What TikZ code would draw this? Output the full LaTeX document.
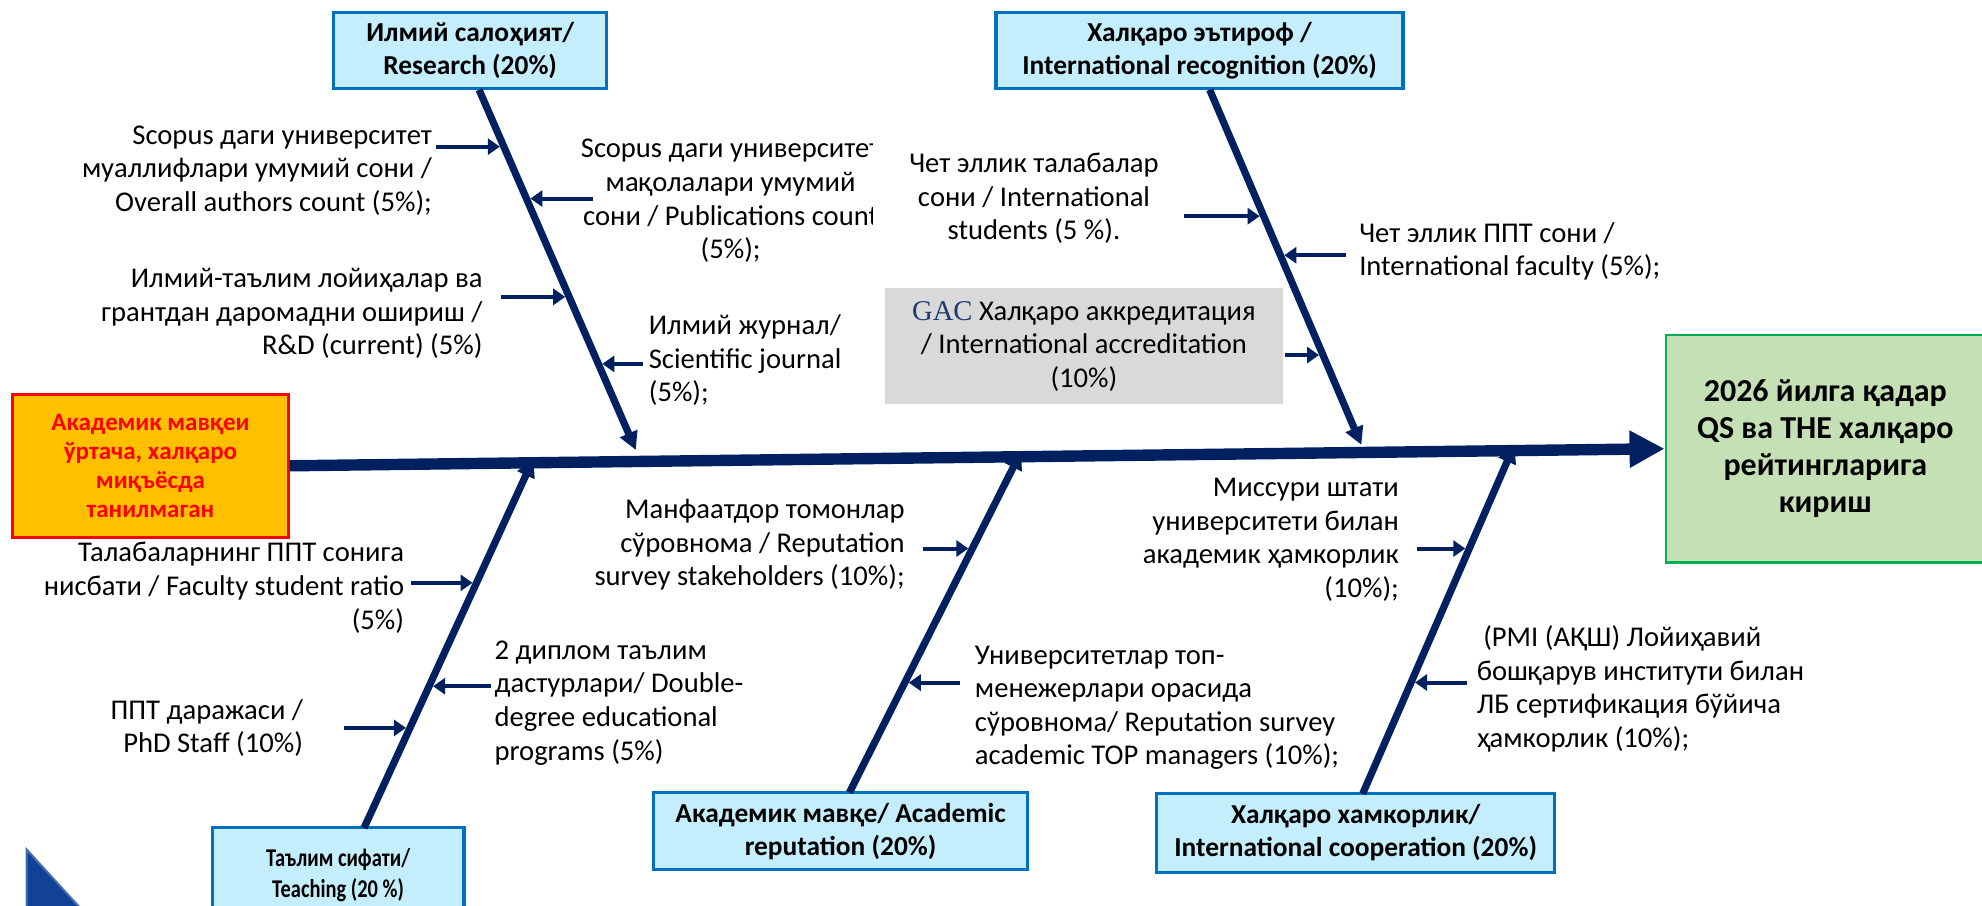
\documentclass[tikz,border=0pt]{standalone}
\usepackage{fontspec}
\setmainfont{Carlito}
\newfontfamily\gacfont{Liberation Serif}
\newfontfamily\narrowfont[FakeStretch=0.8]{Carlito}
\usetikzlibrary{arrows.meta,calc}

\definecolor{navy}{RGB}{0,32,96}
\definecolor{boxblue}{RGB}{0,112,192}
\definecolor{boxfill}{RGB}{197,238,252}
\definecolor{probfill}{RGB}{255,192,0}
\definecolor{goalfill}{RGB}{197,224,180}
\definecolor{goalline}{RGB}{0,176,80}
\definecolor{gacgray}{RGB}{217,217,217}
\definecolor{gacblue}{RGB}{31,56,110}
\definecolor{slideblue}{RGB}{18,66,152}
\definecolor{slideedge}{RGB}{70,110,175}

\newcommand{\causesize}{\fontsize{14.3}{16.8}\selectfont}
\newcommand{\factorsize}{\fontsize{13.7}{16.5}\selectfont}
\newcommand{\teachsize}{\narrowfont\fontsize{12.8}{15.5}\selectfont}
\newcommand{\probsize}{\fontsize{12.5}{14.6}\selectfont}
\newcommand{\goalsize}{\fontsize{16}{18.6}\selectfont}

\tikzset{
  factor/.style={draw=boxblue, line width=1.6pt, fill=boxfill, align=center, inner sep=0pt, font=\bfseries\factorsize},
  cause/.style={inner sep=0pt, font=\causesize},
  spine/.style={navy, line width=5.7pt, -{Triangle[length=17.5pt,width=17.5pt]}},
  bone/.style={navy, line width=3.6pt, -{Triangle[length=9pt,width=9pt]}},
  sub/.style={navy, line width=2pt, -{Triangle[length=6pt,width=8pt]}, shorten >=2pt},
}

\begin{document}
\begin{tikzpicture}[x=0.632pt,y=0.632pt,yscale=-1,xscale=1]
\useasboundingbox (0,0) rectangle (1568,716);
\clip (0,0) rectangle (1568,716);
\fill[white] (0,0) rectangle (1568,716);

%Shape: slide corner
\fill[slideblue, draw=slideedge, line width=1pt] (21,672) -- (21,720) -- (65,720) -- cycle;

%Head and tail
\draw (119,368.5) node (prob) [draw=red, line width=1.5pt, fill=probfill, text=red, font=\bfseries\probsize, align=center, inner sep=0pt, minimum width=137.8pt, minimum height=71.4pt] {Академик мавқеи\\ўртача, халқаро\\миқъёсда\\танилмаган};
\draw (1444,355) node (goal) [draw=goalline, line width=1.4pt, fill=goalfill, font=\bfseries\goalsize, align=center, inner sep=0pt, minimum width=159.3pt, minimum height=113.8pt] {2026 йилга қадар\\QS ва THE халқаро\\рейтингларига\\кириш};

%Spine
\draw[spine] (prob.east) -- (goal.west);

%Factor boxes
\draw (372,40) node (bRes) [factor, minimum width=136.5pt, minimum height=37.9pt] {Илмий салоҳият/\\Research (20\%)};
\draw (949,40) node (bRec) [factor, minimum width=203.5pt, minimum height=37.9pt] {Халқаро эътироф /\\International recognition (20\%)};
\draw (267.5,692) node (bTea) [factor, font=\teachsize\bfseries, minimum width=125.8pt, minimum height=47.4pt] {Таълим сифати/\\Teaching (20 \%)};
\draw (665,657.5) node (bRep) [factor, minimum width=187pt, minimum height=38.6pt] {Академик мавқе/ Academic\\reputation (20\%)};
\draw (1072.5,659) node (bCoop) [factor, minimum width=199pt, minimum height=39.2pt] {Халқаро хамкорлик/\\International cooperation (20\%)};

%Bones
\coordinate (sRes) at (379,71);   \coordinate (eRes) at (503,356);
\coordinate (sRec) at (957,71);   \coordinate (eRec) at (1077,352);
\coordinate (sTea) at (288,655);  \coordinate (eTea) at (422,363);
\coordinate (sRep) at (672,627);  \coordinate (eRep) at (808,357);
\coordinate (sCoop) at (1078,628); \coordinate (eCoop) at (1198,352);

%Points on bones
\coordinate (a1) at ($(sRes)!0.158!(eRes)$);
\coordinate (a2) at ($(sRes)!0.302!(eRes)$);
\coordinate (a3) at ($(sRes)!0.575!(eRes)$);
\coordinate (a4) at ($(sRes)!0.761!(eRes)$);
\coordinate (a5) at ($(sRec)!0.356!(eRec)$);
\coordinate (a6) at ($(sRec)!0.466!(eRec)$);
\coordinate (a7) at ($(sRec)!0.747!(eRec)$);
\coordinate (a8) at ($(sTea)!0.664!(eTea)$);
\coordinate (a9) at ($(sTea)!0.384!(eTea)$);
\coordinate (a10) at ($(sTea)!0.271!(eTea)$);
\coordinate (a11) at ($(sRep)!0.715!(eRep)$);
\coordinate (a12) at ($(sRep)!0.322!(eRep)$);
\coordinate (a13) at ($(sCoop)!0.703!(eCoop)$);
\coordinate (a14) at ($(sCoop)!0.319!(eCoop)$);

% Text Node
\draw (342,135) node (tA) [cause, anchor=east, align=right] {Scopus даги университет\\муаллифлари умумий сони /\\Overall authors count (5\%);};
% Text Node
\begin{scope}
\clip (430,90) rectangle (690,220);
\draw (578,159) node (tB) [cause, align=center] {Scopus даги университет\\мақолалари умумий\\сони / Publications count\\(5\%);};
\end{scope}
% Text Node
\draw (382,248) node (tC) [cause, anchor=east, align=right] {Илмий-таълим лойиҳалар ва\\грантдан даромадни ошириш /\\R\&D (current) (5\%)};
% Text Node
\draw (513,285) node (tD) [cause, anchor=west, align=left] {Илмий журнал/\\Scientific journal\\(5\%);};
% Text Node
\draw (818,157) node (tE) [cause, align=center] {Чет эллик талабалар\\сони / International\\students (5 \%).};
% Text Node
\draw (1075,199) node (tF) [cause, anchor=west, align=left] {Чет эллик ППТ сони /\\International faculty (5\%);};
% Text Node
\draw (857.5,274) node (gac) [cause, fill=gacgray, align=center, minimum width=199pt, minimum height=58.1pt] {{\gacfont\color{gacblue}GAC} Халқаро аккредитация\\/ International accreditation\\(10\%)};
% Text Node
\draw (320,465) node (tH) [cause, anchor=east, align=right] {Талабаларнинг ППТ сонига\\нисбати / Faculty student ratio\\(5\%)};
% Text Node
\draw (391,556) node (tI) [cause, anchor=west, align=left] {2 диплом таълим\\дастурлари/ Double-\\degree educational\\programs (5\%)};
% Text Node
\draw (240,576) node (tJ) [cause, anchor=east, align=right] {ППТ даражаси /\\PhD Staff (10\%)};
% Text Node
\draw (716,431) node (tK) [cause, anchor=east, align=right] {Манфаатдор томонлар\\сўровнома / Reputation\\survey stakeholders (10\%);};
% Text Node
\draw (771,560) node (tL) [cause, anchor=west, align=left] {Университетлар топ-\\менежерлари орасида\\сўровнома/ Reputation survey\\academic TOP managers (10\%);};
% Text Node
\draw (1107,427) node (tM) [cause, anchor=east, align=right] {Миссури штати\\университети билан\\академик ҳамкорлик\\(10\%);};
% Text Node
\draw (1168,545) node (tN) [cause, anchor=west, align=left] {\ (PMI (АҚШ) Лойиҳавий\\бошқарув институти билан\\ЛБ сертификация бўйича\\ҳамкорлик (10\%);};

%Sub-cause arrows
\draw[sub] ($(a1)+(-54,0)$) -- (a1);
\draw[sub] ($(a2)+(53,0)$) -- (a2);
\draw[sub] ($(a3)+(-54,0)$) -- (a3);
\draw[sub] ($(a4)+(35,0)$) -- (a4);
\draw[sub] ($(a5)+(-63,0)$) -- (a5);
\draw[sub] ($(a6)+(52,0)$) -- (a6);
\draw[sub] ($(a7)+(-30,0)$) -- (a7);
\draw[sub] ($(a8)+(-52,0)$) -- (a8);
\draw[sub] ($(a9)+(49,0)$) -- (a9);
\draw[sub] ($(a10)+(-52,0)$) -- (a10);
\draw[sub] ($(a11)+(-39,0)$) -- (a11);
\draw[sub] ($(a12)+(44,0)$) -- (a12);
\draw[sub] ($(a13)+(-41,0)$) -- (a13);
\draw[sub] ($(a14)+(44,0)$) -- (a14);

%Bone arrows
\draw[bone] (sRes) -- (eRes);
\draw[bone] (sRec) -- (eRec);
\draw[bone] (sTea) -- (eTea);
\draw[bone] (sRep) -- (eRep);
\draw[bone] (sCoop) -- (eCoop);

\end{tikzpicture}
\end{document}
